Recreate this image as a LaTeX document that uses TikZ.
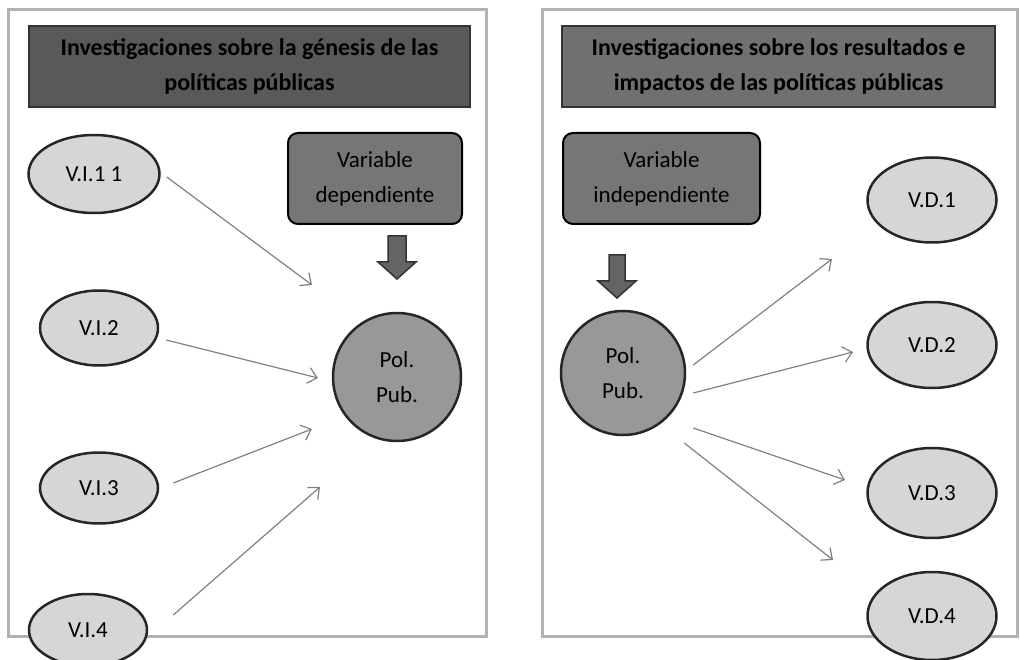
\documentclass[tikz,border=0pt]{standalone}
\usepackage{fontspec}
\setmainfont{Carlito}
\usetikzlibrary{arrows.meta,shapes.geometric}
\definecolor{framegray}{RGB}{178,178,178}
\definecolor{titledark}{RGB}{89,89,89}
\definecolor{titlemid}{RGB}{112,112,112}
\definecolor{boxgray}{RGB}{118,118,118}
\definecolor{circlegray}{RGB}{152,152,152}
\definecolor{ovalgray}{RGB}{214,214,214}
\definecolor{linegray}{RGB}{128,128,128}

\begin{document}
\begin{tikzpicture}[x=1pt, y=-1pt,
    txt/.style={font=\fontsize{23}{35}\selectfont, align=center},
    titlebox/.style={draw=black!80, line width=1.5pt, font=\bfseries\fontsize{24}{35}\selectfont, align=center, minimum height=81pt, inner sep=0pt},
    varbox/.style={txt, draw=black, line width=2pt, rounded corners=10pt, fill=boxgray, minimum height=91pt, inner sep=0pt},
    polcircle/.style={txt, circle, draw=black!85, line width=2.5pt, fill=circlegray, inner sep=0pt},
    varoval/.style={txt, ellipse, draw=black!85, line width=2.5pt, fill=ovalgray, inner sep=0pt},
    conn/.style={draw=linegray, line width=1.2pt, -{Straight Barb[length=9pt,width=16pt]}},
    bigarrow/.style={draw=black!80, line width=1.5pt, fill=boxgray!85!black}]
        \useasboundingbox (0,0) rectangle (1020,660);

        % Panel frames
        \draw[framegray, line width=3pt] (8,10) rectangle (486,636);
        \draw[framegray, line width=3pt] (542,10) rectangle (1017,636);

        % Left panel: genesis
        \node[titlebox, fill=titledark, minimum width=441pt] (titleL) at (249.5,66.5)
            {Investigaciones sobre la génesis de las\\políticas públicas};
        \node[varbox, minimum width=174pt] (depbox) at (375,178.5) {Variable\\dependiente};
        \coordinate (downL) at (397,236);
        \draw[bigarrow] (downL) ++(-9,0) -- ++(18,0) -- ++(0,26) -- ++(10,0) -- ++(-19,17) -- ++(-19,-17) -- ++(10,0) -- cycle;
        \node[polcircle, minimum size=128pt] (polL) at (397,377) {Pol.\\Pub.};

        \foreach \n/\x/\y/\w/\h/\txt in {1/94/174/131/78/V.I.1 1, 2/99/328/118/75/V.I.2, 3/99/488/118/71/V.I.3, 4/88/630/118/72/V.I.4} {
            \node[varoval, minimum width=\w pt, minimum height=\h pt] (vi\n) at (\x,\y) {\txt};
        }
        \foreach \n/\sx/\sy/\ex/\ey in {1/6/3/312/285, 2/7/12/318/378, 3/14/-5/312/429, 4/25/-15/320/487} {
            \coordinate (endL\n) at (\ex,\ey);
            \draw[conn] ([shift={(\sx,\sy)}]vi\n.east) -- (endL\n);
        }

        % Right panel: results and impacts
        \node[titlebox, fill=titlemid, minimum width=433pt] (titleR) at (778.5,66.5)
            {Investigaciones sobre los resultados e\\impactos de las políticas públicas};
        \node[varbox, minimum width=197pt] (indbox) at (661.5,178.5) {Variable\\independiente};
        \coordinate (downR) at (617,255);
        \draw[bigarrow] (downR) ++(-8,0) -- ++(16,0) -- ++(0,26) -- ++(11,0) -- ++(-19,17) -- ++(-19,-17) -- ++(11,0) -- cycle;
        \node[polcircle, minimum size=124pt] (polR) at (623,373) {Pol.\\Pub.};

        \foreach \n/\y/\h in {1/200/85, 2/345/86, 3/493/90, 4/616/88} {
            \node[varoval, minimum width=129pt, minimum height=\h pt] (vd\n) at (932,\y) {V.D.\n};
        }
        \foreach \n/\sx/\sy/\ex/\ey in {1/7/-8/832/259, 2/7/20/853/352, 3/7/55/845/480, 4/-2/70/833/560} {
            \coordinate (endR\n) at (\ex,\ey);
            \draw[conn] ([shift={(\sx,\sy)}]polR.east) -- (endR\n);
        }
    \end{tikzpicture}
\end{document}
